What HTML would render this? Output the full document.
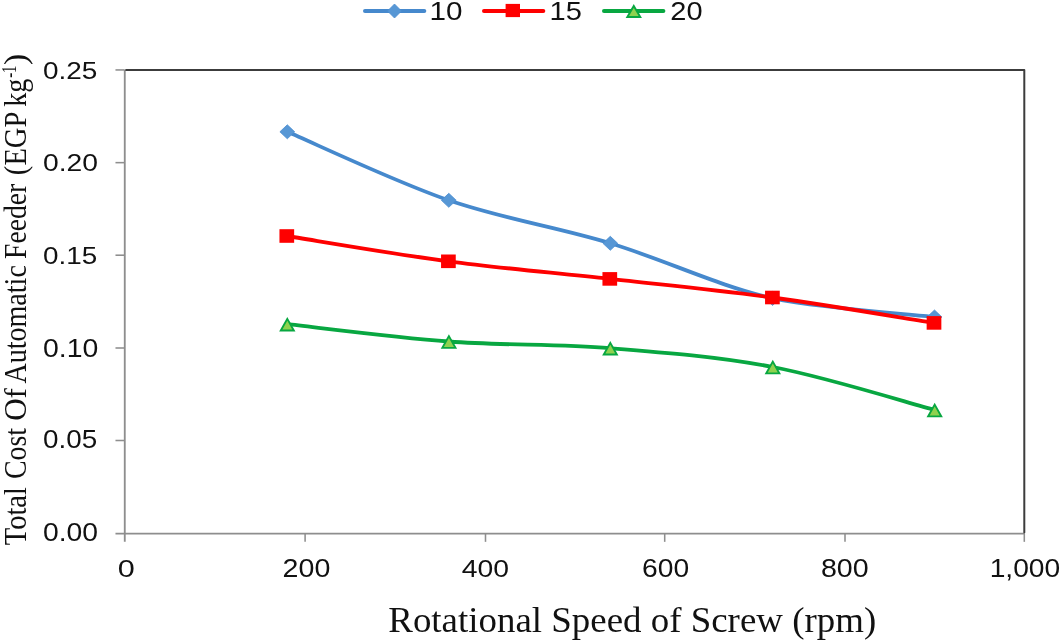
<!DOCTYPE html>
<html><head><meta charset="utf-8"><title>chart</title>
<style>html,body{margin:0;padding:0;background:#fff}svg{display:block}</style>
</head><body>
<svg width="1062" height="643" viewBox="0 0 1062 643" style="will-change:transform">
<rect width="1062" height="643" fill="#ffffff"/>
<g stroke="#8e8e8e" stroke-width="1.85" fill="none">
<path d="M124.77 69.95 V541.8499999999999"/>
<path d="M115.47 533.55 H1024.3"/>
<path d="M115.47 440.50 H124.77" stroke-width="1.55"/>
<path d="M115.47 348.00 H124.77" stroke-width="1.55"/>
<path d="M115.47 255.20 H124.77" stroke-width="1.55"/>
<path d="M115.47 162.65 H124.77" stroke-width="1.55"/>
<path d="M115.47 69.95 H124.77" stroke-width="1.55"/>
<path d="M305.10 533.55 V541.8499999999999" stroke-width="1.55"/>
<path d="M485.50 533.55 V541.8499999999999" stroke-width="1.55"/>
<path d="M664.70 533.55 V541.8499999999999" stroke-width="1.55"/>
<path d="M845.00 533.55 V541.8499999999999" stroke-width="1.55"/>
<path d="M1024.30 533.55 V541.8499999999999" stroke-width="1.55"/>
</g>
<path d="M126.07 69.95 H1024.3 V532.55" fill="none" stroke="#3c3c3c" stroke-width="2.0" stroke-linejoin="round" stroke-linecap="round"/>
<path d="M287.30 131.80 C314.22 143.22 394.97 181.72 448.80 200.30 C502.63 218.88 556.33 226.95 610.30 243.30 C664.27 259.65 718.57 286.12 772.60 298.40 C826.60 309.00 907.52 313.90 934.50 317.00" fill="none" stroke="#4689cd" stroke-width="3.8" stroke-linecap="round" stroke-linejoin="round"/>
<path d="M279.90 131.80L287.30 124.80L294.70 131.80L287.30 138.80Z" fill="#5797d5" stroke="#4a8dd0" stroke-width="0.8"/>
<path d="M441.40 200.30L448.80 193.30L456.20 200.30L448.80 207.30Z" fill="#5797d5" stroke="#4a8dd0" stroke-width="0.8"/>
<path d="M602.90 243.30L610.30 236.30L617.70 243.30L610.30 250.30Z" fill="#5797d5" stroke="#4a8dd0" stroke-width="0.8"/>
<path d="M765.20 298.40L772.60 291.40L780.00 298.40L772.60 305.40Z" fill="#5797d5" stroke="#4a8dd0" stroke-width="0.8"/>
<path d="M927.10 317.00L934.50 310.00L941.90 317.00L934.50 324.00Z" fill="#5797d5" stroke="#4a8dd0" stroke-width="0.8"/>
<path d="M286.80 236.00 C313.73 240.22 394.57 254.15 448.40 261.30 C502.23 268.45 555.80 272.87 609.80 278.90 C663.80 284.93 718.37 290.17 772.40 297.50 C826.43 304.83 907.07 318.67 934.00 322.90" fill="none" stroke="#fe0000" stroke-width="3.8" stroke-linecap="round" stroke-linejoin="round"/>
<rect x="279.45" y="229.20" width="14.70" height="13.60" fill="#fe0000"/>
<rect x="441.05" y="254.50" width="14.70" height="13.60" fill="#fe0000"/>
<rect x="602.45" y="272.10" width="14.70" height="13.60" fill="#fe0000"/>
<rect x="765.05" y="290.70" width="14.70" height="13.60" fill="#fe0000"/>
<rect x="926.65" y="316.10" width="14.70" height="13.60" fill="#fe0000"/>
<path d="M287.30 324.20 C314.23 327.08 395.07 337.50 448.90 341.50 C502.73 345.50 556.32 343.95 610.30 348.20 C664.28 352.45 718.73 356.70 772.80 367.00 C826.87 377.30 907.72 402.83 934.70 410.00" fill="none" stroke="#08a741" stroke-width="3.8" stroke-linecap="round" stroke-linejoin="round"/>
<path d="M287.30 318.85L293.85 330.55L280.75 330.55Z" fill="#8fd24f" stroke="#08a741" stroke-width="1.9" stroke-linejoin="miter"/>
<path d="M448.90 336.15L455.45 347.85L442.35 347.85Z" fill="#8fd24f" stroke="#08a741" stroke-width="1.9" stroke-linejoin="miter"/>
<path d="M610.30 342.85L616.85 354.55L603.75 354.55Z" fill="#8fd24f" stroke="#08a741" stroke-width="1.9" stroke-linejoin="miter"/>
<path d="M772.80 361.65L779.35 373.35L766.25 373.35Z" fill="#8fd24f" stroke="#08a741" stroke-width="1.9" stroke-linejoin="miter"/>
<path d="M934.70 404.65L941.25 416.35L928.15 416.35Z" fill="#8fd24f" stroke="#08a741" stroke-width="1.9" stroke-linejoin="miter"/>
<path d="M365 11.0 H424.3" stroke="#4689cd" stroke-width="4.0" stroke-linecap="round"/>
<path d="M387.50 11.00L394.50 4.00L401.50 11.00L394.50 18.00Z" fill="#5797d5" stroke="#4a8dd0" stroke-width="0.8"/>
<path d="M484 11.0 H543.3" stroke="#fe0000" stroke-width="4.0" stroke-linecap="round"/>
<rect x="505.60" y="3.90" width="14.40" height="13.20" fill="#fe0000"/>
<path d="M604 11.0 H663.4" stroke="#08a741" stroke-width="4.0" stroke-linecap="round"/>
<path d="M633.80 5.95L640.30 17.05L627.30 17.05Z" fill="#8fd24f" stroke="#08a741" stroke-width="1.9" stroke-linejoin="miter"/>
<text transform="matrix(0.27957 0 0 0.24085 42.882 78.659)" style="font-family:'Liberation Sans',sans-serif" font-size="100" fill="#111">0.25</text>
<text transform="matrix(0.28289 0 0 0.24507 42.968 171.255)" style="font-family:'Liberation Sans',sans-serif" font-size="100" fill="#111">0.20</text>
<text transform="matrix(0.27849 0 0 0.24789 42.986 263.852)" style="font-family:'Liberation Sans',sans-serif" font-size="100" fill="#111">0.15</text>
<text transform="matrix(0.28396 0 0 0.25211 42.964 356.848)" style="font-family:'Liberation Sans',sans-serif" font-size="100" fill="#111">0.10</text>
<text transform="matrix(0.27849 0 0 0.25070 42.986 448.149)" style="font-family:'Liberation Sans',sans-serif" font-size="100" fill="#111">0.05</text>
<text transform="matrix(0.28289 0 0 0.25211 42.968 540.748)" style="font-family:'Liberation Sans',sans-serif" font-size="100" fill="#111">0.00</text>
<text transform="matrix(0.30625 0 0 0.24648 117.775 576.954)" style="font-family:'Liberation Sans',sans-serif" font-size="100" fill="#111">0</text>
<text transform="matrix(0.28608 0 0 0.24930 282.570 576.851)" style="font-family:'Liberation Sans',sans-serif" font-size="100" fill="#111">200</text>
<text transform="matrix(0.28323 0 0 0.24789 461.834 576.852)" style="font-family:'Liberation Sans',sans-serif" font-size="100" fill="#111">400</text>
<text transform="matrix(0.28228 0 0 0.25070 641.989 576.949)" style="font-family:'Liberation Sans',sans-serif" font-size="100" fill="#111">600</text>
<text transform="matrix(0.28616 0 0 0.25070 820.955 576.949)" style="font-family:'Liberation Sans',sans-serif" font-size="100" fill="#111">800</text>
<text transform="matrix(0.28193 0 0 0.25783 989.645 577.448)" style="font-family:'Liberation Sans',sans-serif" font-size="100" fill="#111">1,000</text>
<text transform="matrix(0.29697 0 0 0.24930 429.424 19.851)" style="font-family:'Liberation Sans',sans-serif" font-size="100" fill="#111">10</text>
<text transform="matrix(0.29091 0 0 0.25286 549.473 19.847)" style="font-family:'Liberation Sans',sans-serif" font-size="100" fill="#111">15</text>
<text transform="matrix(0.29020 0 0 0.24930 670.349 19.851)" style="font-family:'Liberation Sans',sans-serif" font-size="100" fill="#111">20</text>
<text transform="matrix(0.36925 0 0 0.35109 388.292 631.927)" style="font-family:'Liberation Serif',serif" font-size="100" fill="#111">Rotational Speed of Screw (rpm)</text>
<text transform="matrix(0 -0.28550 0.31500 0 25.600 545.271)" style="font-family:'Liberation Serif',serif" font-size="100" fill="#111">Total</text>
<text transform="matrix(0 -0.27877 0.31500 0 25.600 479.015)" style="font-family:'Liberation Serif',serif" font-size="100" fill="#111">Cost</text>
<text transform="matrix(0 -0.31078 0.31500 0 25.600 420.843)" style="font-family:'Liberation Serif',serif" font-size="100" fill="#111">Of</text>
<text transform="matrix(0 -0.28062 0.31500 0 25.600 383.581)" style="font-family:'Liberation Serif',serif" font-size="100" fill="#111">Automatic</text>
<text transform="matrix(0 -0.27649 0.31500 0 25.600 258.929)" style="font-family:'Liberation Serif',serif" font-size="100" fill="#111">Feeder</text>
<text transform="matrix(0 -0.28598 0.31500 0 25.600 175.144)" style="font-family:'Liberation Serif',serif" font-size="100" fill="#111">(EGP</text>
<text transform="matrix(0 -0.28125 0.31500 0 25.600 106.763)" style="font-family:'Liberation Serif',serif" font-size="100" fill="#111">kg</text>
<text transform="matrix(0 -0.23191 0.31500 0 16.213 77.864)" style="font-family:'Liberation Serif',serif" font-size="64" fill="#111">-1</text>
<text transform="matrix(0 -0.35000 0.31500 0 25.600 65.350)" style="font-family:'Liberation Serif',serif" font-size="100" fill="#111">)</text>
</svg>
</body></html>
